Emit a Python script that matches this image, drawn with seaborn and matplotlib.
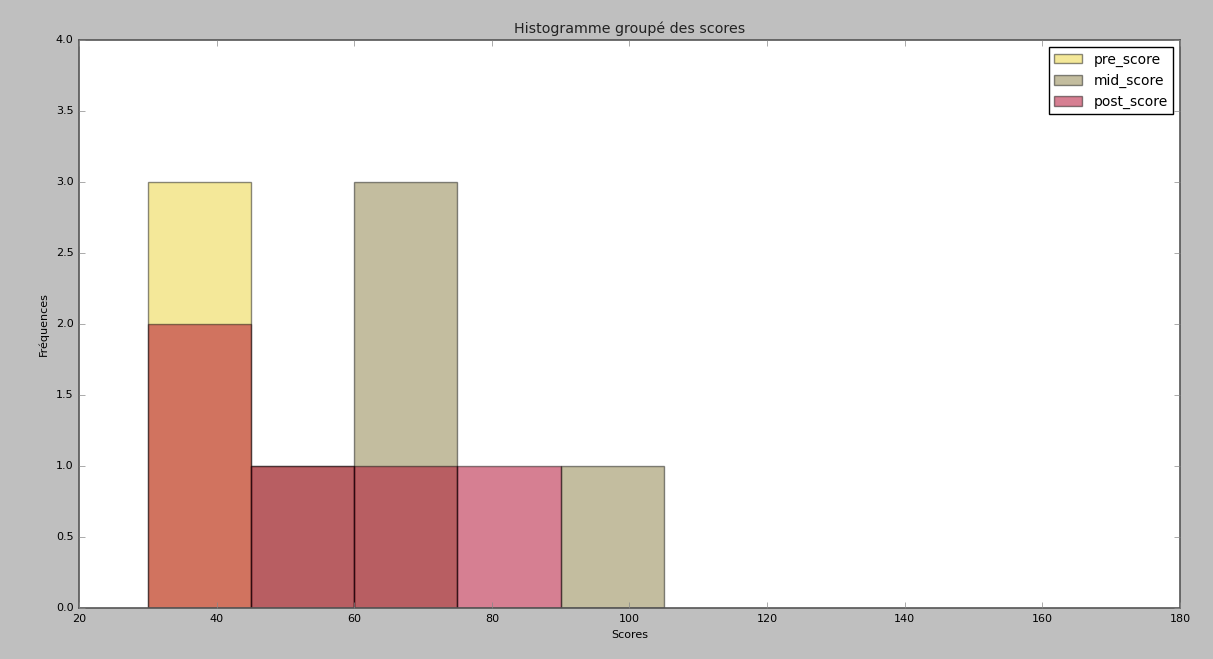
import matplotlib
matplotlib.use("Agg")
import matplotlib.pyplot as plt
import seaborn as sns
import numpy as np

# Data: individual scores per series
pre_score = [33, 38, 42]
mid_score = [52, 62, 66, 72, 98]
post_score = [35, 40, 50, 68, 82]
series_names = ["pre_score", "mid_score", "post_score"]
bin_edges = [30, 45, 60, 75, 90, 105]
x_ticks = [20, 40, 60, 80, 100, 120, 140, 160, 180]
y_ticks = [0.0, 0.5, 1.0, 1.5, 2.0, 2.5, 3.0, 3.5, 4.0]

colors = ["#ebd335", "#897d41", "#af0027"]

plt.style.use("classic")
plt.rcParams["font.family"] = ["DejaVu Sans"]

fig = plt.figure(figsize=(12.13, 6.59), dpi=100, facecolor="#bfbfbf")
ax = fig.add_axes([0.0651, 0.0774, 0.9077, 0.862])
ax.set_facecolor("white")

for data, name, col in zip([pre_score, mid_score, post_score], series_names, colors):
    sns.histplot(x=data, bins=bin_edges, color=col, alpha=0.5, edgecolor=(0, 0, 0, 0.45),
                 linewidth=1.0, label=name, ax=ax, stat="count", element="bars")

ax.set_xlim(20, 180)
ax.set_ylim(0, 4)
ax.set_xticks(x_ticks)
ax.set_yticks(y_ticks)
ax.set_xticklabels([str(t) for t in x_ticks], fontsize=8)
ax.set_yticklabels([f"{t:.1f}" for t in y_ticks], fontsize=8)
ax.tick_params(direction="in", top=True, right=True, length=4, color="#888888")
for s in ax.spines.values():
    s.set_color("#555555")
    s.set_linewidth(1.2)

ax.set_title("Histogramme groupé des scores", fontsize=10.3, color="#222222")
ax.set_xlabel("Scores", fontsize=8)
ax.set_ylabel("Fréquences", fontsize=8)
ax.grid(False)

leg = ax.legend(loc="upper right", fontsize=10, frameon=True, fancybox=False)
leg.get_frame().set_edgecolor("black")

fig.savefig("out.png", dpi=100, facecolor=fig.get_facecolor())
